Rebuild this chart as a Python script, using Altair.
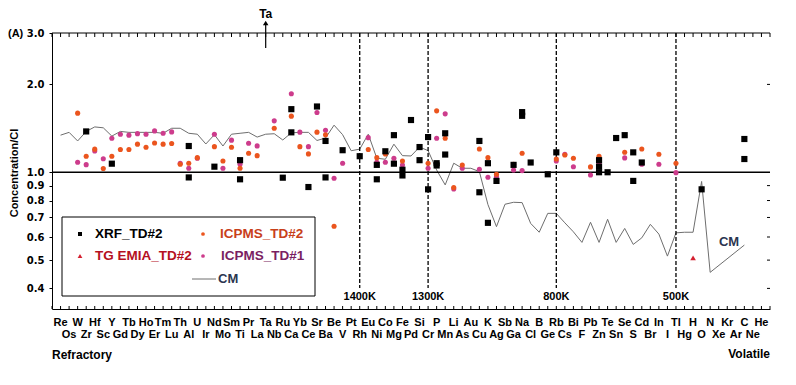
import altair as alt
import pandas as pd

elements = ["Re","Os","W","Zr","Hf","Sc","Y","Gd","Tb","Dy","Ho","Er","Tm","Lu","Th","Al","U","Ir","Nd","Mo",
            "Sm","Ti","Pr","La","Ta","Nb","Ru","Ca","Yb","Ce","Sr","Ba","Be","V","Pt","Rh","Eu","Ni","Co","Mg",
            "Fe","Pd","Si","Cr","P","Mn","Li","As","Au","Cu","K","Ag","Sb","Ga","Na","Cl","B","Ge","Rb","Cs",
            "Bi","F","Pb","Zn","Te","Sn","Se","S","Cd","Br","In","I","Tl","Hg","H","O","N","Xe","Kr","Ar",
            "C","Ne","He"]

cm_values = [1.34,1.37,1.28,1.38,1.43,1.42,1.33,1.38,1.37,1.37,1.37,1.37,1.36,1.415,1.415,1.36,1.35,1.25,1.345,1.23,
             1.35,1.36,1.37,1.32,1.35,1.355,1.29,1.365,1.37,1.37,1.285,1.31,1.45,1.345,1.185,1.20,1.35,1.117,1.108,1.248,
             1.14,1.137,1.22,1.186,1.018,0.905,1.074,1.032,1.032,1.005,0.775,0.651,0.777,0.789,0.787,0.668,0.623,0.723,0.723,0.671,
             0.625,0.575,0.674,0.575,0.69,0.575,0.642,0.566,0.596,0.663,0.614,0.516,0.62,0.623,0.623,0.93,0.454,None,None,None,
             0.563,None,None]

xrf_elems = ["Zr","Y","Al","Al","Nd","Ti","Ti","Ru","Ca","Ca","Ce","Sr","Ba","Ba","V","Rh","Ni","Ni","Co","Mg","Mg",
             "Fe","Fe","Pd","Si","Si","Cr","Cr","P","P","Mn","Mn","Cu","Cu","K","K","Ag","Ga","Na","Na","Cl","Ge",
             "Rb","Zn","Zn","Zn","Te","Sn","Se","S","S","Cd","O","C","C"]
xrf_vals = [1.38,1.07,1.23,0.96,1.045,1.10,0.946,0.958,1.645,1.37,0.89,1.68,1.28,0.96,1.19,1.135,1.06,0.946,1.18,1.34,1.07,
            1.02,0.975,1.51,1.22,1.10,1.32,0.874,1.074,1.055,1.36,1.15,1.28,0.854,1.074,0.671,0.934,1.06,1.607,1.561,1.08,0.984,
            1.17,1.10,1.045,1.0,1.0,1.31,1.34,1.17,0.934,1.08,0.874,1.30,1.11]

tg_elems = ["H","C"]
tg_vals = [0.509,1.11]

icp2_elems = ["W","Zr","Hf","Sc","Y","Gd","Tb","Dy","Ho","Er","Tm","Lu","Th","Al","U","Nd","Mo","Sm","Ti","Pr","La",
              "Nb","Ca","Yb","Ce","Sr","Ba","Be","Eu","Ni","Co","Fe","Cr","P","Mn","Li","As","Cu","K","Ag","Ga","Na",
              "Rb","Cs","Bi","Pb","Zn","Se","Cd","In","Tl"]
icp2_vals = [1.594,1.135,1.20,1.03,1.135,1.196,1.196,1.248,1.218,1.26,1.248,1.254,1.065,1.074,1.122,1.224,1.093,1.218,1.032,1.162,1.14,
             1.415,1.557,1.224,1.156,1.372,1.343,0.653,1.196,1.122,1.156,1.093,1.074,1.623,1.308,0.886,1.059,1.202,1.122,0.984,1.065,1.162,
             1.11,1.146,1.117,1.043,1.135,1.171,1.202,1.153,1.074]

icp1_elems = ["W","Zr","Hf","Sc","Y","Gd","Tb","Dy","Ho","Er","Tm","Lu","Th","Al","U","Nd","Mo","Sm","Ti","Pr","La",
              "Nb","Ca","Yb","Ce","Sr","Ba","Be","V","Eu","Ni","Co","Mg","Fe","Cr","P","Mn","Li","As","Cu","K","Ag",
              "Ga","Na","Rb","Cs","Bi","Pb","Zn","Se","Cd","In","Tl"]
icp1_vals = [1.082,1.062,1.183,1.113,1.308,1.35,1.34,1.356,1.35,1.386,1.36,1.375,1.074,1.032,1.117,1.35,1.032,1.288,1.065,1.257,1.231,
             1.50,1.857,1.372,1.224,1.602,1.393,0.954,1.074,1.314,1.082,1.082,1.117,1.059,1.032,1.308,1.585,0.877,1.032,1.024,0.961,0.966,
             1.018,1.013,1.093,1.153,1.045,0.979,1.074,1.12,1.065,1.065,0.997]

temp_elems = ["Rh","Cr","Rb","Tl"]
temp_labels = ["1400K","1300K","800K","500K"]

y_ticks = [0.4,0.5,0.6,0.7,0.8,0.9,1.0,2.0,3.0]
right_ticks = [0.4,0.5,0.6,0.7,0.8,0.9,2.0]

W, H = 718, 276
C_XRF, C_TG, C_ICP2, C_ICP1, C_CM = "black", "#d42030", "#eb551e", "#cd3c8c", "#6e6e6e"
LABEL_FONT = "Liberation Sans"

def pts(el, vals):
    return pd.DataFrame({"idx": [elements.index(e) for e in el], "v": vals})

cm_df = pd.DataFrame({"idx": list(range(len(elements))), "v": cm_values}).dropna()
el_df = pd.DataFrame({"idx": list(range(len(elements))), "name": elements})
even_df = el_df[el_df.idx % 2 == 0]
odd_df = el_df[el_df.idx % 2 == 1]
tick_df = pd.DataFrame({"idx": list(range(-1, len(elements) + 1))})
temp_df = pd.DataFrame({"idx": [elements.index(e) for e in temp_elems], "lab": temp_labels})
one = pd.DataFrame({"t": ["x"]})

x_scale = alt.Scale(domain=[-1, len(elements)], nice=False, zero=False)
y_scale = alt.Scale(type="log", domain=[0.34, 3.0], nice=False)
x_axis = alt.Axis(labels=False, ticks=False, grid=False, domain=True, domainColor="black", domainWidth=1)
y_axis = alt.Axis(values=y_ticks, format=".1f", grid=False, domainColor="black", domainWidth=1,
                  tickColor="black", tickSize=3, labelPadding=5, labelFont="DejaVu Sans",
                  labelFontWeight="bold", labelFontSize=10, labelColor="black", labelOverlap=False)

X = alt.X("idx:Q", scale=x_scale, axis=x_axis, title=None)
Y = alt.Y("v:Q", scale=y_scale, axis=y_axis, title=None)

layers = []
layers.append(alt.Chart(cm_df).mark_line(color=C_CM, strokeWidth=1).encode(x=X, y=Y))
layers.append(alt.Chart(pd.DataFrame({"v": [1.0]})).mark_rule(color="black", strokeWidth=1.5).encode(
    y=Y, x=alt.value(0), x2=alt.value(W)))
layers.append(alt.Chart(temp_df).mark_rule(color="black", strokeWidth=1.3, strokeDash=[4, 2]).encode(
    x=X, y=alt.value(0), y2=alt.value(255)))
layers.append(alt.Chart(temp_df).mark_text(font=LABEL_FONT, fontWeight="bold", fontSize=11, baseline="middle",
                                           align="center", color="black").encode(x=X, y=alt.value(264), text="lab:N"))
# frame and inward ticks
layers.append(alt.Chart(one).mark_rule(color="black", strokeWidth=1).encode(
    x=alt.value(0), x2=alt.value(W), y=alt.value(0)))
layers.append(alt.Chart(tick_df).mark_rule(color="black", strokeWidth=1).encode(x=X, y=alt.value(0), y2=alt.value(4)))
layers.append(alt.Chart(tick_df).mark_rule(color="black", strokeWidth=1).encode(x=X, y=alt.value(H), y2=alt.value(H - 3)))
layers.append(alt.Chart(pd.DataFrame({"v": right_ticks})).mark_rule(color="black", strokeWidth=1).encode(
    y=Y, x=alt.value(W - 3), x2=alt.value(W)))
# data points
layers.append(alt.Chart(pts(icp1_elems, icp1_vals)).mark_point(shape="circle", filled=True, opacity=1, size=26,
                                                                color=C_ICP1).encode(x=X, y=Y))
layers.append(alt.Chart(pts(icp2_elems, icp2_vals)).mark_point(shape="circle", filled=True, opacity=1, size=26,
                                                                color=C_ICP2).encode(x=X, y=Y))
layers.append(alt.Chart(pts(tg_elems, tg_vals)).mark_point(shape="triangle-up", filled=True, opacity=1, size=32,
                                                            color=C_TG).encode(x=X, y=Y))
layers.append(alt.Chart(pts(xrf_elems, xrf_vals)).mark_point(shape="square", filled=True, opacity=1, size=38,
                                                              color=C_XRF).encode(x=X, y=Y))
# legend box
layers.append(alt.Chart(one).mark_rect(fill="white", stroke="black", strokeWidth=1).encode(
    x=alt.value(10), x2=alt.value(263), y=alt.value(184), y2=alt.value(263)))
leg_sym = [("square", C_XRF, 28, 201, 16), ("triangle-up", C_TG, 28, 223, 22),
           ("circle", C_ICP2, 151, 201, 14), ("circle", C_ICP1, 151, 223, 14)]
for shp, col, lx, ly, sz in leg_sym:
    layers.append(alt.Chart(one).mark_point(shape=shp, filled=True, opacity=1, size=sz, color=col).encode(
        x=alt.value(lx), y=alt.value(ly)))
leg_txt = [("XRF_TD#2", "black", 43, 201), ("TG EMIA_TD#2", "#b5101e", 43, 223),
           ("ICPMS_TD#2", "#c8401a", 168, 201), ("ICPMS_TD#1", "#7a1f62", 169, 223)]
for txt, col, lx, ly in leg_txt:
    layers.append(alt.Chart(pd.DataFrame({"t": [txt]})).mark_text(
        font=LABEL_FONT, fontWeight="bold", fontSize=13.5, align="left", baseline="middle", color=col).encode(
        x=alt.value(lx), y=alt.value(ly), text="t:N"))
layers.append(alt.Chart(one).mark_rule(color=C_CM, strokeWidth=1).encode(
    x=alt.value(140), x2=alt.value(164), y=alt.value(246)))
layers.append(alt.Chart(pd.DataFrame({"t": ["CM"]})).mark_text(
    font=LABEL_FONT, fontWeight="bold", fontSize=13, align="left", baseline="middle", color="#2b3550").encode(
    x=alt.value(166), y=alt.value(246), text="t:N"))
# CM label in plot
layers.append(alt.Chart(pd.DataFrame({"t": ["CM"]})).mark_text(
    font=LABEL_FONT, fontWeight="bold", fontSize=13, align="center", baseline="middle", color="#2b3550").encode(
    x=alt.value(677), y=alt.value(209), text="t:N"))
# Ta arrow
ta_df = pd.DataFrame({"idx": [elements.index("Ta")], "t": ["Ta"]})
layers.append(alt.Chart(ta_df).mark_rule(color="black", strokeWidth=1.2).encode(x=X, y=alt.value(15), y2=alt.value(-9)))
layers.append(alt.Chart(ta_df).mark_point(shape="triangle-up", filled=True, opacity=1, size=30, color="black").encode(
    x=X, y=alt.value(-10)))
layers.append(alt.Chart(ta_df).mark_text(font=LABEL_FONT, fontWeight="bold", fontSize=12, align="center",
                                         baseline="alphabetic", color="black").encode(x=X, y=alt.value(-15), text="t:N"))
# element labels
layers.append(alt.Chart(even_df).mark_text(font=LABEL_FONT, fontWeight="bold", fontSize=11, align="center",
                                           baseline="middle", color="black").encode(x=X, y=alt.value(290), text="name:N"))
layers.append(alt.Chart(odd_df).mark_text(font=LABEL_FONT, fontWeight="bold", fontSize=11, align="center",
                                          baseline="middle", color="black").encode(x=X, y=alt.value(302), text="name:N"))
layers.append(alt.Chart(pd.DataFrame({"t": ["Refractory"]})).mark_text(
    font=LABEL_FONT, fontWeight="bold", fontSize=12, align="left", baseline="middle", color="black").encode(
    x=alt.value(0), y=alt.value(322), text="t:N"))
layers.append(alt.Chart(pd.DataFrame({"t": ["Volatile"]})).mark_text(
    font=LABEL_FONT, fontWeight="bold", fontSize=12, align="right", baseline="middle", color="black").encode(
    x=alt.value(W), y=alt.value(321), text="t:N"))
layers.append(alt.Chart(pd.DataFrame({"t": ["(A)"]})).mark_text(
    font=LABEL_FONT, fontWeight="bold", fontSize=11, align="left", baseline="middle", color="black").encode(
    x=alt.value(-44), y=alt.value(1), text="t:N"))
layers.append(alt.Chart(pd.DataFrame({"t": ["Concentration/CI"]})).mark_text(
    font=LABEL_FONT, fontWeight="bold", fontSize=11, align="center", baseline="middle", angle=270,
    color="black").encode(x=alt.value(-37), y=alt.value(140), text="t:N"))

chart = alt.layer(*layers).properties(
    width=W, height=H,
    padding={"left": 44, "top": 25, "right": 18, "bottom": 60},
    autosize=alt.AutoSizeParams(type="none"),
).configure_view(stroke=None)

chart.save("out.html", embed_options={"renderer": "svg", "actions": False})
